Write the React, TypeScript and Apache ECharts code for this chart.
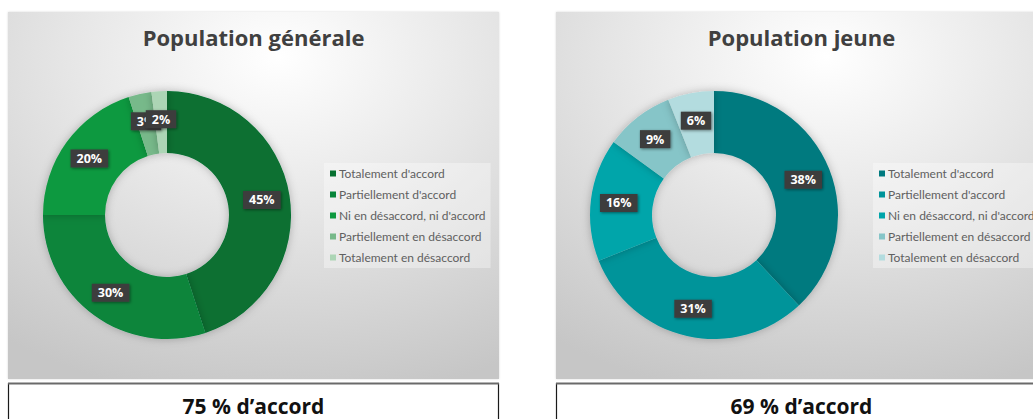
import React, { useEffect, useRef } from "react";
import * as echarts from "echarts";

const categories = [
  "Totalement d'accord",
  "Partiellement d'accord",
  "Ni en désaccord, ni d'accord",
  "Partiellement en désaccord",
  "Totalement en désaccord",
];
const generalValues = [45, 30, 20, 3, 2];
const youngValues = [38, 31, 16, 9, 6];
const greenColors = ["#077030", "#07853a", "#0e993f", "#77b98a", "#acd5b5"];
const tealColors = ["#007a7f", "#00949a", "#00a5aa", "#86c5c8", "#b3dcdf"];
const titles = ["Population générale", "Population jeune"];
const footers = ["75 % d’accord", "69 % d’accord"];

const W = 1033;
const H = 419;

export default function App() {
  const ref = useRef<HTMLDivElement>(null);
  useEffect(() => {
    document.body.style.margin = "0";
    const chart = echarts.init(ref.current!, null, { renderer: "svg", width: W, height: H });

    const panels = [
      { x: 8, center: 167, legendLeft: 324, colors: greenColors, values: generalValues },
      { x: 556, center: 714, legendLeft: 873, colors: tealColors, values: youngValues },
    ];
    const pw = 491;

    const graphic: any[] = [];
    panels.forEach((p, i) => {
      graphic.push({
        type: "rect",
        z: -10,
        silent: true,
        shape: { x: p.x, y: 12, width: pw, height: 367 },
        style: {
          fill: new echarts.graphic.RadialGradient(0.55, 0.12, 0.95, [
            { offset: 0, color: "#ffffff" },
            { offset: 0.45, color: "#e6e6e6" },
            { offset: 1, color: "#c6c6c6" },
          ]),
          shadowColor: "rgba(0,0,0,0.15)",
          shadowBlur: 2,
        },
      });
      graphic.push({
        type: "text",
        z: 5,
        silent: true,
        x: p.x + pw / 2,
        y: 37,
        style: {
          text: titles[i],
          fill: "#404040",
          font: "bold 22px 'Open Sans', sans-serif",
          align: "center",
          verticalAlign: "middle",
        },
      });
      graphic.push({
        type: "rect",
        z: 5,
        silent: true,
        shape: { x: p.x + 0.5, y: 383.5, width: pw - 1, height: 50 },
        style: { fill: "#ffffff", stroke: "#1a1a1a", lineWidth: 1.2 },
      });
      graphic.push({
        type: "line",
        z: 6,
        silent: true,
        shape: { x1: p.x, y1: 383.5, x2: p.x + pw, y2: 383.5 },
        style: { stroke: "#6a6a6a", lineWidth: 2 },
      });
      graphic.push({
        type: "text",
        z: 7,
        silent: true,
        x: p.x + pw / 2,
        y: 406,
        style: {
          text: footers[i],
          fill: "#111111",
          font: "bold 21px 'Open Sans', sans-serif",
          align: "center",
          verticalAlign: "middle",
        },
      });
    });

    const option: any = {
      animation: false,
      backgroundColor: "#ffffff",
      graphic,
      legend: panels.map((p) => ({
        orient: "vertical",
        left: p.legendLeft,
        top: 163,
        padding: [4, 5, 4, 6],
        backgroundColor: "rgba(255,255,255,0.35)",
        itemWidth: 6,
        itemHeight: 6,
        itemGap: 8,
        icon: "rect",
        selectedMode: false,
        textStyle: {
          color: "#606060",
          fontSize: 12,
          fontFamily: "Lato, sans-serif",
          lineHeight: 13,
          padding: [0, 0, 0, -2],
        },
        data: categories.map((c, k) => ({ name: c, itemStyle: { color: p.colors[k] } })),
      })),
      series: panels.map((p) => ({
        type: "pie",
        center: [p.center, 215],
        radius: [62, 124],
        startAngle: 90,
        clockwise: true,
        silent: true,
        avoidLabelOverlap: false,
        labelLayout: { hideOverlap: false },
        minShowLabelAngle: 0,
        label: {
          show: true,
          position: "inside",
          formatter: "{c}%",
          color: "#ffffff",
          fontWeight: "bold",
          fontSize: 12.5,
          fontFamily: "'Open Sans', sans-serif",
          backgroundColor: "#3d3d3d",
          padding: [3, 6, 2, 6],
          shadowColor: "rgba(0,0,0,0.45)",
          shadowBlur: 3,
          shadowOffsetX: 1,
          shadowOffsetY: 1,
        },
        labelLine: { show: false },
        itemStyle: {
          shadowColor: "rgba(0,0,0,0.25)",
          shadowBlur: 8,
        },
        data: categories.map((c, k) => ({
          name: c,
          value: p.values[k],
          itemStyle: { color: p.colors[k] },
        })),
      })),
    };
    chart.setOption(option);
    return () => chart.dispose();
  }, []);
  return (
    <div
      ref={ref}
      style={{ position: "fixed", left: 0, top: 0, width: W, height: H, background: "#fff" }}
    />
  );
}
